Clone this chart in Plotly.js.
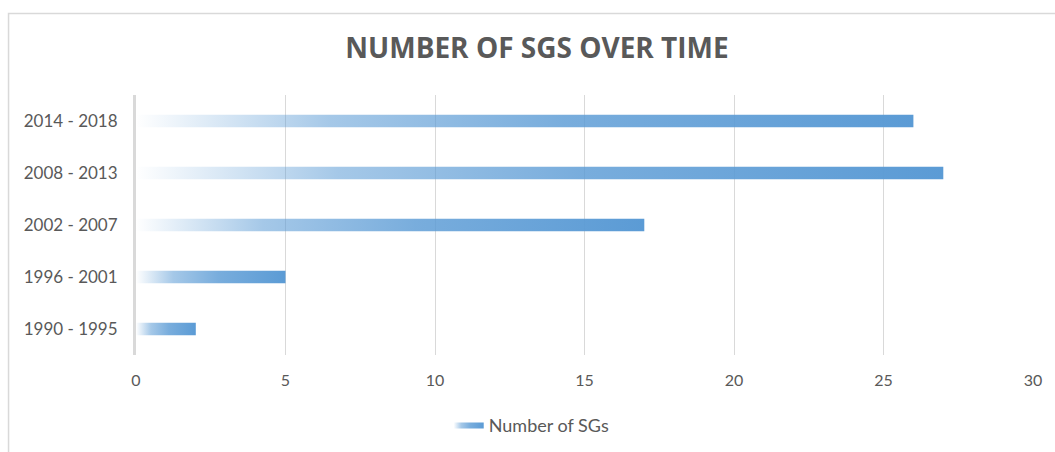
<!DOCTYPE html>
<html>
<head>
<meta charset="utf-8">
<script src="https://cdn.plot.ly/plotly-3.0.1.min.js"></script>
<style>
  html, body { margin: 0; padding: 0; background: #fff; }
  #chart { width: 1055px; height: 452px; }
</style>
</head>
<body>
<div id="chart"></div>
<script>
// Data (bottom to top)
const categories = ["1990 - 1995", "1996 - 2001", "2002 - 2007", "2008 - 2013", "2014 - 2018"];
const sgCounts = [2, 5, 17, 27, 26];
const seriesName = "Number of SGs";
const xTicks = [0, 5, 10, 15, 20, 25, 30];

const barWidth = 0.24;
const gradientScale = [
  [0, 'rgba(91,155,213,0.0)'],
  [0.25, 'rgba(91,155,213,0.55)'],
  [0.55, 'rgba(91,155,213,0.82)'],
  [1, 'rgba(91,155,213,1)']
];

const traces = categories.map((cat, i) => {
  const v = sgCounts[i];
  const lo = i - barWidth / 2, hi = i + barWidth / 2;
  return {
    type: 'scatter',
    mode: 'lines',
    x: [0, v, v, 0, 0],
    y: [lo, lo, hi, hi, lo],
    fill: 'toself',
    fillgradient: { type: 'horizontal', colorscale: gradientScale, start: 0, stop: v },
    line: { width: 0, color: 'rgba(91,155,213,0)' },
    name: seriesName,
    legendgroup: 'sg',
    showlegend: i === 0,
    hoveron: 'fills',
    text: cat + ': ' + v,
    hoverinfo: 'text'
  };
});

const layout = {
  width: 1055,
  height: 452,
  margin: { l: 136, r: 22, t: 95, b: 97, autoexpand: false },
  paper_bgcolor: '#ffffff',
  plot_bgcolor: '#ffffff',
  font: { family: 'Lato, "Open Sans", sans-serif', color: '#595959', size: 16 },
  title: {
    text: '<b>NUMBER OF SGS OVER TIME</b>',
    font: { family: '"Open Sans", Lato, sans-serif', size: 28, color: '#595959' },
    x: 0.509, xanchor: 'center',
    y: 0.893, yanchor: 'middle'
  },
  xaxis: {
    range: [0, 30],
    tickvals: xTicks,
    ticktext: xTicks.map(String),
    showgrid: true,
    gridcolor: '#d9d9d9',
    gridwidth: 1,
    zeroline: false,
    showline: false,
    ticks: '',
    ticklabelstandoff: 14,
    tickfont: { size: 16, color: '#595959' },
    fixedrange: true
  },
  yaxis: {
    range: [-0.5, 4.5],
    tickvals: categories.map((c, i) => i),
    ticktext: categories,
    showgrid: false,
    zeroline: false,
    showline: true,
    linecolor: '#d9d9d9',
    linewidth: 3,
    ticks: '',
    ticklabelstandoff: 12,
    tickfont: { size: 17, color: '#595959' },
    fixedrange: true
  },
  showlegend: true,
  legend: {
    orientation: 'h',
    x: 0.504, xanchor: 'center', xref: 'container',
    y: 0.06, yanchor: 'middle', yref: 'container',
    font: { size: 18, color: '#595959' },
    itemwidth: 30
  },
  shapes: [{
    type: 'rect', xref: 'paper', yref: 'paper',
    x0: -0.1421, x1: 1.2, y0: -0.6, y1: 1.3135,
    line: { color: '#d9d9d9', width: 1.5 },
    fillcolor: 'rgba(0,0,0,0)',
    layer: 'below'
  }]
};

Plotly.newPlot('chart', traces, layout, { displayModeBar: false, staticPlot: false });
</script>
</body>
</html>
